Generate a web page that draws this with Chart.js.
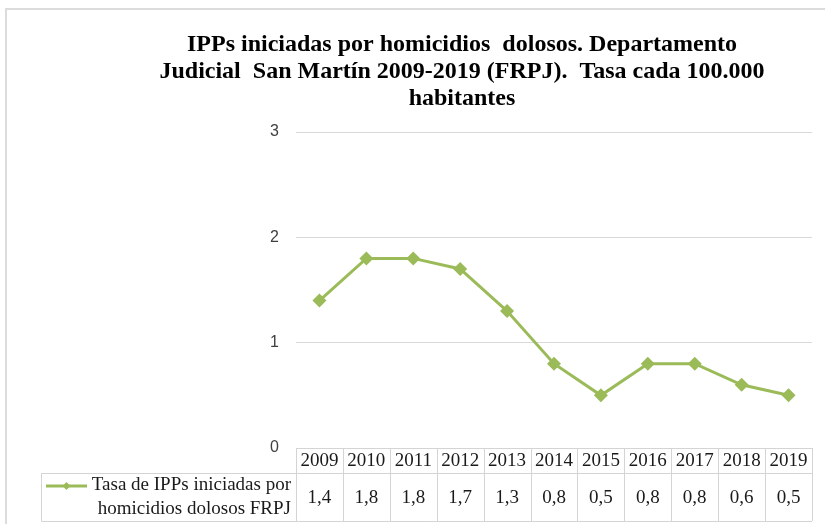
<!DOCTYPE html>
<html>
<head>
<meta charset="utf-8">
<script src="https://cdn.jsdelivr.net/npm/chart.js@4/dist/chart.umd.min.js"></script>
<style>
    html, body { margin: 0; padding: 0; background: #fff; }
</style>
</head>
<body>
<canvas id="tasaChart" width="825" height="524"></canvas>
<script>
const years = ['2009', '2010', '2011', '2012', '2013', '2014', '2015', '2016', '2017', '2018', '2019'];
const tasa = [1.4, 1.8, 1.8, 1.7, 1.3, 0.8, 0.5, 0.8, 0.8, 0.6, 0.5];
const titleLines = [
    'IPPs iniciadas por homicidios  dolosos. Departamento',
    'Judicial  San Martín 2009-2019 (FRPJ).  Tasa cada 100.000',
    'habitantes'
];
const seriesName = ['Tasa de IPPs iniciadas por', 'homicidios dolosos FRPJ'];

const GREEN = '#9bbb59';
const LINE_GRAY = '#d9d9d9';

// comma as decimal separator, like the source sheet
function fmt(v) {
    return v.toFixed(1).replace('.', ',');
}

// frame around the whole chart + the data table under the plot
const dataTable = {
    id: 'dataTable',
    beforeDraw(chart) {
        const ctx = chart.ctx;
        ctx.save();
        ctx.strokeStyle = '#dcdcdc';
        ctx.lineWidth = 2;
        ctx.beginPath();
        ctx.moveTo(6, 524);
        ctx.lineTo(6, 9);
        ctx.lineTo(825, 9);
        ctx.stroke();
        ctx.restore();
    },
    afterDraw(chart) {
        const ctx = chart.ctx;
        const x = chart.scales.x;
        const area = chart.chartArea;
        const colW = (area.right - area.left) / years.length;
        const top = area.bottom;
        const mid = top + 25;
        const bottom = mid + 48;
        const legendLeft = 41.5;

        ctx.save();
        ctx.strokeStyle = '#d4d4d4';
        ctx.lineWidth = 1;
        ctx.beginPath();
        // header row
        ctx.moveTo(area.left, top + 0.5);
        ctx.lineTo(area.right, top + 0.5);
        // row divider and bottom
        ctx.moveTo(legendLeft, mid + 0.5);
        ctx.lineTo(area.right, mid + 0.5);
        ctx.moveTo(legendLeft, bottom + 0.5);
        ctx.lineTo(area.right, bottom + 0.5);
        ctx.moveTo(legendLeft, mid);
        ctx.lineTo(legendLeft, bottom);
        for (let i = 0; i <= years.length; i++) {
            const cx = Math.round(area.left + i * colW) + 0.5;
            ctx.moveTo(cx, top);
            ctx.lineTo(cx, bottom);
        }
        ctx.stroke();

        ctx.fillStyle = '#1a1a1a';
        ctx.font = '19px "Liberation Serif", serif';
        ctx.textAlign = 'center';
        ctx.textBaseline = 'middle';
        years.forEach((y, i) => {
            const cx = x.getPixelForValue(i);
            ctx.fillText(y, cx, top + 13);
            ctx.fillText(fmt(tasa[i]), cx, mid + 25);
        });

        // series key inside the first cell
        ctx.strokeStyle = GREEN;
        ctx.lineWidth = 3;
        ctx.beginPath();
        ctx.moveTo(46, mid + 13);
        ctx.lineTo(87, mid + 13);
        ctx.stroke();
        ctx.fillStyle = GREEN;
        ctx.beginPath();
        ctx.moveTo(66.5, mid + 9);
        ctx.lineTo(70.5, mid + 13);
        ctx.lineTo(66.5, mid + 17);
        ctx.lineTo(62.5, mid + 13);
        ctx.closePath();
        ctx.fill();

        ctx.fillStyle = '#1a1a1a';
        ctx.textAlign = 'right';
        ctx.fillText(seriesName[0], 291, mid + 12);
        ctx.fillText(seriesName[1], 291, mid + 36);
        ctx.restore();
    }
};

new Chart(document.getElementById('tasaChart'), {
    type: 'line',
    data: {
        labels: years,
        datasets: [{
            label: seriesName.join(' '),
            data: tasa,
            borderColor: GREEN,
            backgroundColor: GREEN,
            borderWidth: 3,
            pointStyle: 'rectRot',
            pointRadius: 7,
            pointBorderWidth: 0,
            tension: 0
        }]
    },
    options: {
        responsive: false,
        animation: false,
        layout: {
            padding: { left: 112, right: 13, top: 0, bottom: 76 }
        },
        plugins: {
            legend: { display: false },
            tooltip: { enabled: false },
            title: {
                display: true,
                text: titleLines,
                color: '#000',
                font: { family: '"Liberation Serif", serif', size: 24, weight: 'bold', lineHeight: 1.125 },
                padding: { top: 31, bottom: 20 }
            }
        },
        scales: {
            x: {
                display: false,
                offset: true
            },
            y: {
                min: 0,
                max: 3,
                afterFit(scale) { scale.width = 184; },
                ticks: {
                    stepSize: 1,
                    padding: 17,
                    color: '#404040',
                    font: { family: '"Liberation Sans", sans-serif', size: 16 }
                },
                grid: {
                    color: LINE_GRAY,
                    drawTicks: false
                },
                border: { display: false }
            }
        }
    },
    plugins: [dataTable]
});
</script>
</body>
</html>
